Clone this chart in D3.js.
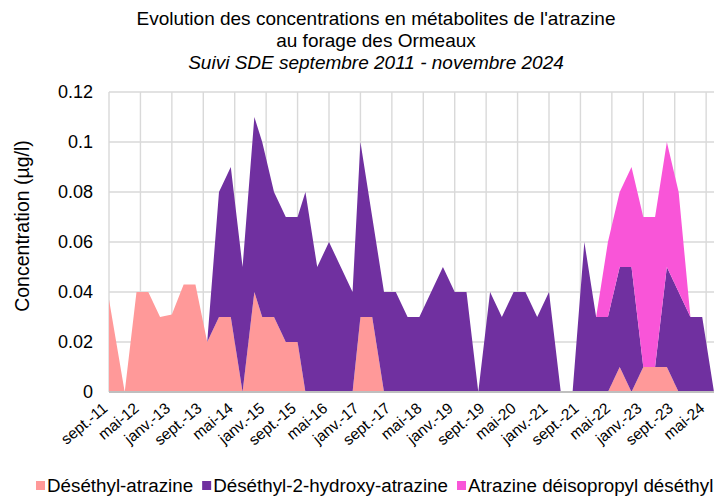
<!DOCTYPE html>
<html>
<head>
<meta charset="utf-8">
<script src="https://cdn.jsdelivr.net/npm/d3@7"></script>
<style>
body{margin:0;background:#fff;}
text{font-family:"Liberation Sans",Arial,sans-serif;fill:#000;}
</style>
</head>
<body>
<div id="chart"></div>
<script>
// sampling dates (year-month) and values in µg/l
var dates = ["2011-09","2012-01","2012-04","2012-07","2012-10","2013-01","2013-04","2013-07","2013-10",
    "2014-01","2014-04","2014-07","2014-10","2014-12","2015-03","2015-06","2015-09","2015-11",
    "2016-02","2016-05","2016-11","2017-01","2017-04","2017-07","2017-10","2018-01","2018-04",
    "2018-10","2019-01","2019-04","2019-07","2019-10","2020-01","2020-04","2020-07","2020-10",
    "2021-01","2021-04","2021-07","2021-10","2022-01","2022-04","2022-07","2022-10","2023-01",
    "2023-04","2023-07","2023-10","2024-01","2024-04","2024-07"];
var desethylAtrazine = [0.037,0,0.04,0.04,0.03,0.031,0.043,0.043,0.02,
    0.03,0.03,0,0.04,0.03,0.03,0.02,0.02,0,
    0,0,0,0.03,0.03,0,0,0,0,
    0,0,0,0,0,0,0,0,0,
    0,0,0,0,0,0,0.01,0,0.01,
    0.01,0.01,0,0,0,0];
var desethylHydroxy = [0,0,0,0,0,0,0,0,0,
    0.05,0.06,0.05,0.07,0.07,0.05,0.05,0.05,0.08,
    0.05,0.06,0.04,0.07,0.04,0.04,0.04,0.03,0.03,
    0.05,0.04,0.04,0,0.04,0.03,0.04,0.04,0.03,
    0.04,0,0,0.06,0.03,0.03,0.04,0.05,0,
    0,0.04,0.04,0.03,0.03,0];
var deisopropylDesethyl = [0,0,0,0,0,0,0,0,0,
    0,0,0,0,0,0,0,0,0,
    0,0,0,0,0,0,0,0,0,
    0,0,0,0,0,0,0,0,0,
    0,0,0,0,0,0.03,0.03,0.04,0.06,
    0.06,0.05,0.04,0,0,0];
var seriesNames = ["Déséthyl-atrazine","Déséthyl-2-hydroxy-atrazine","Atrazine déisopropyl déséthyl"];
var tickLabels = ["sept.-11","mai-12","janv.-13","sept.-13","mai-14","janv.-15","sept.-15","mai-16",
    "janv.-17","sept.-17","mai-18","janv.-19","sept.-19","mai-20","janv.-21","sept.-21","mai-22",
    "janv.-23","sept.-23","mai-24"];
var yTicks = [0,0.02,0.04,0.06,0.08,0.1,0.12];
var titleLines = ["Evolution des concentrations en métabolites de l'atrazine","au forage des Ormeaux",
    "Suivi SDE septembre 2011 - novembre 2024"];

var colors = ["#ff9999","#7030a0","#f955d8"];
var width = 714, height = 497;
var plot = {left: 109, right: 714, top: 92, bottom: 392};

function monthIndex(s){
    var p = s.split("-");
    return (+p[0])*12 + (+p[1]-1);
}
var frMonths = {"janv.":1,"mai":5,"sept.":9};
function labelMonth(l){
    var i = l.lastIndexOf("-");
    return monthIndex("20"+l.slice(i+1)+"-"+frMonths[l.slice(0,i)]);
}

var rows = dates.map(function(d,i){
    return {m: monthIndex(d), s: desethylAtrazine[i], p: desethylHydroxy[i], a: deisopropylDesethyl[i]};
});

var xScale = d3.scaleLinear()
    .domain([monthIndex(dates[0]), monthIndex(dates[dates.length-1])])
    .range([plot.left, plot.right]);
var yScale = d3.scaleLinear()
    .domain([0, 0.12])
    .range([plot.bottom, plot.top]);

var svg = d3.select("#chart").append("svg")
    .attr("width", width)
    .attr("height", height);
svg.append("rect").attr("width", width).attr("height", height).attr("fill", "#fff");

// title
svg.append("g").selectAll("text").data(titleLines).enter().append("text")
    .attr("x", 376)
    .attr("y", function(d,i){return 25 + i*22;})
    .attr("text-anchor", "middle")
    .attr("font-size", 19)
    .attr("font-style", function(d,i){return i==2 ? "italic" : "normal";})
    .text(function(d){return d;});

// gridlines
var tickMonths = tickLabels.map(labelMonth);
svg.append("g").selectAll("line.hgrid").data(yTicks).enter().append("line")
    .attr("x1", plot.left).attr("x2", plot.right)
    .attr("y1", function(d){return yScale(d);}).attr("y2", function(d){return yScale(d);})
    .attr("stroke", "#d9d9d9").attr("stroke-width", 1.4);
svg.append("g").selectAll("line.vgrid").data(tickMonths).enter().append("line")
    .attr("x1", function(d){return xScale(d);}).attr("x2", function(d){return xScale(d);})
    .attr("y1", plot.top).attr("y2", plot.bottom)
    .attr("stroke", "#d9d9d9").attr("stroke-width", 1.4);

// stacked areas
var stack = d3.stack().keys(["s","p","a"]);
var layers = stack(rows);
var area = d3.area()
    .x(function(d){return xScale(d.data.m);})
    .y0(function(d){return yScale(d[0]);})
    .y1(function(d){return yScale(d[1]);});
svg.append("g").selectAll("path").data(layers).enter().append("path")
    .attr("d", area)
    .attr("fill", function(d,i){return colors[i];});

// x axis
var xAxis = d3.axisBottom(xScale)
    .tickValues(tickMonths)
    .tickSize(0)
    .tickFormat(function(d,i){return tickLabels[i];});
var gx = svg.append("g")
    .attr("transform", "translate(0," + plot.bottom + ")")
    .call(xAxis);
gx.select(".domain").attr("stroke", "#bfbfbf").attr("stroke-width", 2)
    .attr("d", "M" + plot.left + ",0H" + plot.right);
gx.selectAll("text")
    .attr("font-size", 15.5)
    .attr("font-family", "Liberation Sans, Arial, sans-serif")
    .attr("fill", "#000")
    .attr("text-anchor", "end")
    .attr("y", 0).attr("dy", 0)
    .attr("transform", "translate(-1,18) rotate(-40)");

// y axis
var yAxis = d3.axisLeft(yScale)
    .tickValues(yTicks)
    .tickSize(0)
    .tickPadding(16)
    .tickFormat(d3.format("~g"));
var gy = svg.append("g")
    .attr("transform", "translate(" + plot.left + ",0)")
    .call(yAxis);
gy.select(".domain").remove();
gy.selectAll("text")
    .attr("font-size", 18)
    .attr("font-family", "Liberation Sans, Arial, sans-serif")
    .attr("fill", "#000");

svg.append("text")
    .attr("transform", "translate(29,226) rotate(-90)")
    .attr("text-anchor", "middle")
    .attr("font-size", 19.5)
    .text("Concentration (µg/l)");

// legend
var legend = svg.append("g").attr("transform", "translate(0,492)");
var lx = 36;
seriesNames.forEach(function(name,i){
    legend.append("rect")
        .attr("x", lx).attr("y", -11)
        .attr("width", 9).attr("height", 9)
        .attr("fill", colors[i]);
    var t = legend.append("text")
        .attr("x", lx + 11).attr("y", 0)
        .attr("font-size", 18.8)
        .text(name);
    lx += 11 + t.node().getComputedTextLength() + 9;
});
</script>
</body>
</html>
